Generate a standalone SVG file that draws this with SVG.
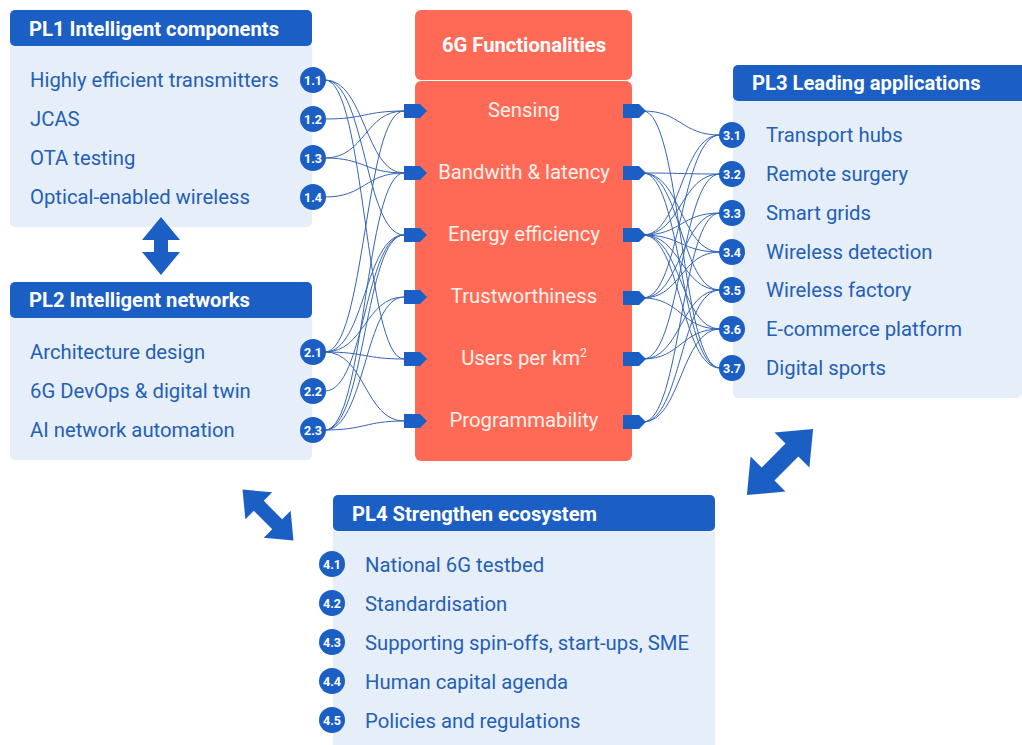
<svg xmlns="http://www.w3.org/2000/svg" width="1022" height="745" viewBox="0 0 1022 745">
<style>
.hdr{fill:#1c5fc4}
.body{fill:#e6eef9}
.htxt{font-family:Roboto,"Liberation Sans",sans-serif;font-weight:bold;font-size:20.2px;fill:#ffffff}
.item{font-family:Roboto,"Liberation Sans",sans-serif;font-size:20.3px;fill:#2460b4}
.ctxt{font-family:Roboto,"Liberation Sans",sans-serif;font-size:20.3px;fill:#fff1ea;text-anchor:middle}
.badge circle{fill:#1c5fc4}
.badge text{font-family:Roboto,"Liberation Sans",sans-serif;font-weight:bold;font-size:12.5px;fill:#ffffff;text-anchor:middle}
.coral{fill:#ff6a56}
.port{fill:#1c5fc4}
.con path{fill:none;stroke:#3564b6;stroke-width:1}
.dbl{fill:#1c5fc4}
</style>
<defs>
<polygon id="dv" points="0,-29 19,-6 7,-6 7,6 19,6 0,29 -19,6 -7,6 -7,-6 -19,-6"/>
<polygon id="dd" points="0,-36 19,-13 7,-13 7,13 19,13 0,36 -19,13 -7,13 -7,-13 -19,-13"/>
<polygon id="pl" points="-11,-7 5,-7 12,0 5,7 -11,7"/>
</defs>
<rect width="1022" height="745" fill="#ffffff"/>

<g id="connectors" class="con">
<path d="M325 80 C365 80 365 173 404 173"/>
<path d="M325 80 C365 80 365 235 404 235"/>
<path d="M325 80 C365 80 365 359 404 359"/>
<path d="M325 119 C365 119 365 111 404 111"/>
<path d="M325 158 C365 158 365 111 404 111"/>
<path d="M325 158 C365 158 365 173 404 173"/>
<path d="M325 197 C365 197 365 173 404 173"/>
<path d="M325 352 C365 352 365 111 404 111"/>
<path d="M325 352 C365 352 365 235 404 235"/>
<path d="M325 352 C365 352 365 297 404 297"/>
<path d="M325 352 C365 352 365 359 404 359"/>
<path d="M325 352 C365 352 365 421 404 421"/>
<path d="M325 391 C365 391 365 235 404 235"/>
<path d="M325 430 C365 430 365 173 404 173"/>
<path d="M325 430 C365 430 365 235 404 235"/>
<path d="M325 430 C365 430 365 297 404 297"/>
<path d="M325 430 C365 430 365 421 404 421"/>

<path d="M643 111 C681 111 681 135 720 135"/>
<path d="M643 111 C681 111 681 368 720 368"/>
<path d="M643 173 C681 173 681 174 720 174"/>
<path d="M643 173 C681 173 681 252 720 252"/>
<path d="M643 173 C681 173 681 290 720 290"/>
<path d="M643 173 C681 173 681 368 720 368"/>
<path d="M643 235 C681 235 681 135 720 135"/>
<path d="M643 235 C681 235 681 174 720 174"/>
<path d="M643 235 C681 235 681 213 720 213"/>
<path d="M643 235 C681 235 681 252 720 252"/>
<path d="M643 235 C681 235 681 290 720 290"/>
<path d="M643 235 C681 235 681 329 720 329"/>
<path d="M643 235 C681 235 681 368 720 368"/>
<path d="M643 298 C681 298 681 135 720 135"/>
<path d="M643 298 C681 298 681 213 720 213"/>
<path d="M643 298 C681 298 681 252 720 252"/>
<path d="M643 298 C681 298 681 329 720 329"/>
<path d="M643 359 C681 359 681 174 720 174"/>
<path d="M643 359 C681 359 681 290 720 290"/>
<path d="M643 359 C681 359 681 329 720 329"/>
<path d="M643 422 C681 422 681 213 720 213"/>
<path d="M643 422 C681 422 681 290 720 290"/>
<path d="M643 422 C681 422 681 329 720 329"/>
</g>

<g id="pl1">
<rect class="body" x="10" y="40" width="302" height="187" rx="5"/>
<rect class="hdr" x="10" y="10" width="302" height="36" rx="5"/>
<text class="htxt" x="29" y="36">PL1 Intelligent components</text>
<text class="item" x="30" y="87">Highly efficient transmitters</text>
<text class="item" x="30" y="126">JCAS</text>
<text class="item" x="30" y="165">OTA testing</text>
<text class="item" x="30" y="204">Optical-enabled wireless</text>
<g class="badge"><circle cx="313" cy="80" r="13"/><text x="313" y="84.5">1.1</text></g>
<g class="badge"><circle cx="313" cy="119" r="13"/><text x="313" y="123.5">1.2</text></g>
<g class="badge"><circle cx="313" cy="158" r="13"/><text x="313" y="162.5">1.3</text></g>
<g class="badge"><circle cx="313" cy="197" r="13"/><text x="313" y="201.5">1.4</text></g>
</g>

<g id="pl2">
<rect class="body" x="10" y="312" width="302" height="148" rx="5"/>
<rect class="hdr" x="10" y="282" width="302" height="36" rx="5"/>
<text class="htxt" x="29" y="307">PL2 Intelligent networks</text>
<text class="item" x="30" y="359">Architecture design</text>
<text class="item" x="30" y="398">6G DevOps &amp; digital twin</text>
<text class="item" x="30" y="437">AI network automation</text>
<g class="badge"><circle cx="313" cy="352" r="13"/><text x="313" y="356.5">2.1</text></g>
<g class="badge"><circle cx="313" cy="391" r="13"/><text x="313" y="395.5">2.2</text></g>
<g class="badge"><circle cx="313" cy="430" r="13"/><text x="313" y="434.5">2.3</text></g>
</g>

<g id="functionalities">
<rect class="coral" x="415" y="10" width="217" height="70" rx="6"/>
<rect class="coral" x="415" y="81" width="217" height="380" rx="6"/>
<text class="htxt" x="524" y="52" text-anchor="middle">6G Functionalities</text>
<text class="ctxt" x="524" y="117">Sensing</text>
<text class="ctxt" x="524" y="179">Bandwith &amp; latency</text>
<text class="ctxt" x="524" y="241">Energy efficiency</text>
<text class="ctxt" x="524" y="303">Trustworthiness</text>
<text class="ctxt" x="524" y="365">Users per km<tspan font-size="12" dy="-8">2</tspan></text>
<text class="ctxt" x="524" y="427">Programmability</text>
<g class="port">
<use href="#pl" x="415" y="111"/><use href="#pl" x="415" y="173"/><use href="#pl" x="415" y="235"/>
<use href="#pl" x="415" y="297"/><use href="#pl" x="415" y="359"/><use href="#pl" x="415" y="421"/>
<use href="#pl" x="634" y="111"/><use href="#pl" x="634" y="173"/><use href="#pl" x="634" y="235"/>
<use href="#pl" x="634" y="298"/><use href="#pl" x="634" y="359"/><use href="#pl" x="634" y="422"/>
</g>
</g>

<g id="pl3">
<rect class="body" x="733" y="95" width="289" height="303" rx="5"/>
<rect class="hdr" x="733" y="65" width="300" height="36" rx="5"/>
<text class="htxt" x="752" y="90">PL3 Leading applications</text>
<text class="item" x="766" y="142">Transport hubs</text>
<text class="item" x="766" y="181">Remote surgery</text>
<text class="item" x="766" y="220">Smart grids</text>
<text class="item" x="766" y="259">Wireless detection</text>
<text class="item" x="766" y="297">Wireless factory</text>
<text class="item" x="766" y="336">E-commerce platform</text>
<text class="item" x="766" y="375">Digital sports</text>
<g class="badge"><circle cx="732" cy="135" r="13"/><text x="732" y="139.5">3.1</text></g>
<g class="badge"><circle cx="732" cy="174" r="13"/><text x="732" y="178.5">3.2</text></g>
<g class="badge"><circle cx="732" cy="213" r="13"/><text x="732" y="217.5">3.3</text></g>
<g class="badge"><circle cx="732" cy="252" r="13"/><text x="732" y="256.5">3.4</text></g>
<g class="badge"><circle cx="732" cy="290" r="13"/><text x="732" y="294.5">3.5</text></g>
<g class="badge"><circle cx="732" cy="329" r="13"/><text x="732" y="333.5">3.6</text></g>
<g class="badge"><circle cx="732" cy="368" r="13"/><text x="732" y="372.5">3.7</text></g>
</g>

<g id="pl4">
<rect class="body" x="333" y="525" width="382" height="225" rx="5"/>
<rect class="hdr" x="333" y="495" width="382" height="36" rx="5"/>
<text class="htxt" x="352" y="521">PL4 Strengthen ecosystem</text>
<text class="item" x="365" y="572">National 6G testbed</text>
<text class="item" x="365" y="611">Standardisation</text>
<text class="item" x="365" y="650">Supporting spin-offs, start-ups, SME</text>
<text class="item" x="365" y="689">Human capital agenda</text>
<text class="item" x="365" y="728">Policies and regulations</text>
<g class="badge"><circle cx="332" cy="564" r="13"/><text x="332" y="568.5">4.1</text></g>
<g class="badge"><circle cx="332" cy="603" r="13"/><text x="332" y="607.5">4.2</text></g>
<g class="badge"><circle cx="332" cy="642" r="13"/><text x="332" y="646.5">4.3</text></g>
<g class="badge"><circle cx="332" cy="681" r="13"/><text x="332" y="685.5">4.4</text></g>
<g class="badge"><circle cx="332" cy="720" r="13"/><text x="332" y="724.5">4.5</text></g>
</g>

<g id="arrows" class="dbl">
<use href="#dv" x="161" y="246"/>
<use href="#dd" transform="translate(268 515) rotate(-45)"/>
<use href="#dd" transform="translate(780 462) rotate(45) scale(1.3)"/>
</g>
</svg>
